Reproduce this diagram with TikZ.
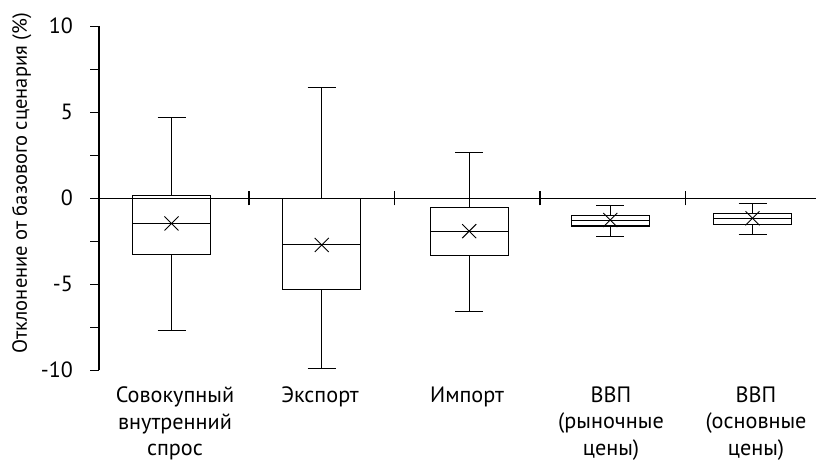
\documentclass[tikz,border=0pt]{standalone}
\usepackage{fontspec}
\setmainfont{PT Sans}
\begin{document}
\begin{tikzpicture}[x=1pt,y=1pt,
  ln/.style={line width=1.1pt, black},
  lbl/.style={font=\fontsize{22.2}{26.5}\selectfont, align=center, inner sep=0pt},
  ytl/.style={font=\fontsize{22}{24}\selectfont, anchor=base east, inner sep=0pt}]
\useasboundingbox (0,0) rectangle (817,460);
% value v -> y = 261.5 + 17.2 v
\def\Y#1{261.5+17.2*(#1)}
% y axis
\draw[ln] (99,{\Y{-10}}) -- (99,{\Y{10}});
\foreach \v in {-10,-7.5,...,10} \draw[ln] (90,{\Y{\v}}) -- (99,{\Y{\v}});
\foreach \v/\t in {10/10,5/5,0/0,-5/-5,-10/-10}
  \node[ytl] at (73,{\Y{\v}-7.3}) {\t};
\node[font=\fontsize{20.5}{24}\selectfont, rotate=90, anchor=base, inner sep=0pt] (ytitle) at (27,276.5) {Отклонение от базового сценария (\%)};
% zero line
\draw[ln] (99,{\Y{0}}) coordinate (z0) -- (816,{\Y{0}}) coordinate (z1);
\foreach \x in {249,394.7,540,685.3} \draw[ln] (\x,{\Y{0}-7}) -- (\x,{\Y{0}+7});
% boxes: center, low, q1, med, q3, high, mean
\foreach \c/\lo/\qa/\md/\qb/\hi/\mn in {
  171.5/-7.65/-3.24/-1.44/0.16/4.72/-1.45,
  321.7/-9.87/-5.28/-2.66/0/6.47/-2.70,
  469.2/-6.58/-3.30/-1.90/-0.51/2.69/-1.90,
  610.3/-2.20/-1.60/-1.29/-0.98/-0.40/-1.25,
  752.5/-2.10/-1.50/-1.15/-0.86/-0.28/-1.15}{
  \draw[ln] (\c-39,{\Y{\qa}}) rectangle (\c+39,{\Y{\qb}});
  \draw[ln] (\c-39,{\Y{\md}}) -- (\c+39,{\Y{\md}});
  \draw[ln] (\c,{\Y{\qb}}) -- (\c,{\Y{\hi}});
  \draw[ln] (\c,{\Y{\qa}}) -- (\c,{\Y{\lo}});
  \draw[ln] (\c-14,{\Y{\hi}}) -- (\c+14,{\Y{\hi}});
  \draw[ln] (\c-14,{\Y{\lo}}) -- (\c+14,{\Y{\lo}});
  \draw[line width=0.9pt] (\c-7,{\Y{\mn}-7}) -- (\c+7,{\Y{\mn}+7});
  \draw[line width=0.9pt] (\c-7,{\Y{\mn}+7}) -- (\c+7,{\Y{\mn}-7});
}
% category labels
\node[lbl, anchor=north] (l1) at (175,73.5) {Совокупный\\внутренний\\спрос};
\node[lbl, anchor=north] (l2) at (320,73.5) {Экспорт};
\node[lbl, anchor=north] (l3) at (467,73.5) {Импорт};
\node[lbl, anchor=north] (l4) at (611,73.5) {ВВП\\(рыночные\\цены)};
\node[lbl, anchor=north] (l5) at (756,73.5) {ВВП\\(основные\\цены)};
\end{tikzpicture}
\end{document}
